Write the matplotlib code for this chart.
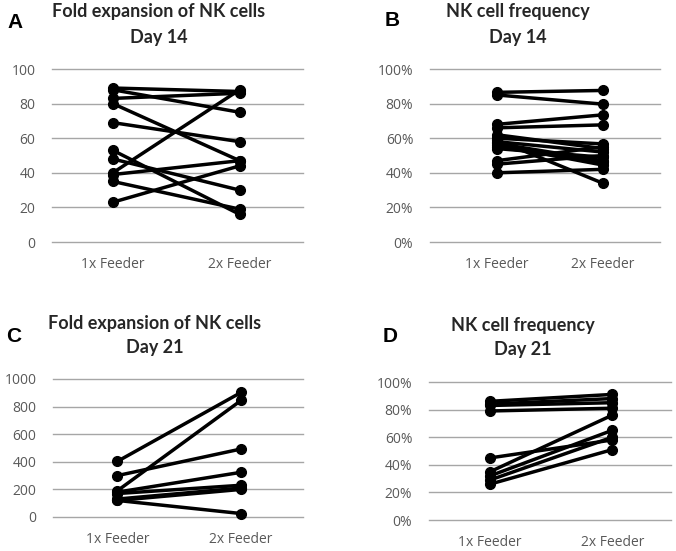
import numpy as np
import matplotlib as mpl
mpl.use('Agg')
import matplotlib.pyplot as plt
from matplotlib.ticker import FuncFormatter

mpl.rcParams['font.family'] = ['Open Sans', 'DejaVu Sans']

groups = ['1x Feeder', '2x Feeder']

# panel A: fold expansion, day 14 (1x, 2x)
a_1x = [89, 88, 83, 80, 69, 53, 48, 40, 39, 35, 23]
a_2x = [87, 75, 86, 47, 58, 16, 30, 88, 47, 19, 44]

# panel B: NK cell frequency, day 14 (%)
b_1x = [86.5, 85, 68, 66, 62, 60, 59, 58, 57, 56, 55, 54, 47, 45, 40]
b_2x = [87.6, 79.7, 73.5, 67.7, 54, 56.7, 34, 52, 47, 44.5, 46, 49, 55, 50, 42]

# panel C: fold expansion, day 21
c_1x = [403, 300, 190, 180, 170, 130, 120, 120]
c_2x = [903, 493, 845, 324, 230, 210, 200, 25]

# panel D: NK cell frequency, day 21 (%)
d_1x = [86, 84, 83, 79, 45, 35, 32, 29, 26]
d_2x = [91, 88, 85, 81, 58, 76, 65, 60, 51]

W, H = 676, 551
fig = plt.figure(figsize=(W/100, H/100), dpi=100)


def px_axes(left, right, top, bottom):
    return fig.add_axes([left/W, 1-bottom/H, (right-left)/W, (bottom-top)/H])


def panel(ax, v1, v2, ymax, step, xlim, pct=False):
    for p, q in zip(v1, v2):
        ax.plot([0, 1], [p, q], color='black', lw=2.5, marker='o', ms=7,
                solid_capstyle='round', clip_on=False, zorder=3)
    ax.set_ylim(0, ymax)
    ax.set_xlim(*xlim)
    ticks = np.arange(0, ymax + step/2, step)
    ax.set_yticks(ticks)
    for t in ticks:
        ax.axhline(t, color='#a6a6a6', lw=1, zorder=1, clip_on=False)
    ax.set_xticks([0, 1])
    ax.set_xticklabels(groups)
    if pct:
        ax.yaxis.set_major_formatter(FuncFormatter(lambda v, p: '%d%%' % v))
    for s in ax.spines.values():
        s.set_visible(False)
    ax.tick_params(length=0, labelsize=10, colors='#595959')
    ax.tick_params(axis='x', pad=11)
    ax.tick_params(axis='y', pad=12)
    ax.set_facecolor('none')


axA = px_axes(52, 303, 69, 242)
panel(axA, a_1x, a_2x, 100, 20, (-0.48, 1.5))
axB = px_axes(430, 660, 69, 242)
panel(axB, b_1x, b_2x, 100, 20, (-0.63, 1.54), pct=True)
axC = px_axes(53, 303, 379, 517)
panel(axC, c_1x, c_2x, 1000, 200, (-0.52, 1.5))
axD = px_axes(429, 671, 382, 520)
panel(axD, d_1x, d_2x, 100, 20, (-0.5, 1.48), pct=True)

tkw = dict(ha='center', va='center', fontsize=13, fontweight='bold',
           color='#262626', family=['Lato', 'DejaVu Sans'])
fig.text(159/W, 1-12/H, 'Fold expansion of NK cells', **tkw)
fig.text(159/W, 1-37/H, 'Day 14', **tkw)
fig.text(518/W, 1-12/H, 'NK cell frequency', **tkw)
fig.text(518/W, 1-37/H, 'Day 14', **tkw)
fig.text(155/W, 1-323/H, 'Fold expansion of NK cells', **tkw)
fig.text(155/W, 1-348/H, 'Day 21', **tkw)
fig.text(523/W, 1-325/H, 'NK cell frequency', **tkw)
fig.text(523/W, 1-350/H, 'Day 21', **tkw)

lkw = dict(ha='center', va='center', fontsize=15, fontweight='bold',
           color='black', family=['Liberation Sans', 'DejaVu Sans'])
fig.text(15/W, 1-23/H, 'A', **lkw)
fig.text(392/W, 1-21/H, 'B', **lkw)
fig.text(14/W, 1-336/H, 'C', **lkw)
fig.text(390/W, 1-336/H, 'D', **lkw)

fig.savefig('out.png', dpi=100, facecolor='white')
